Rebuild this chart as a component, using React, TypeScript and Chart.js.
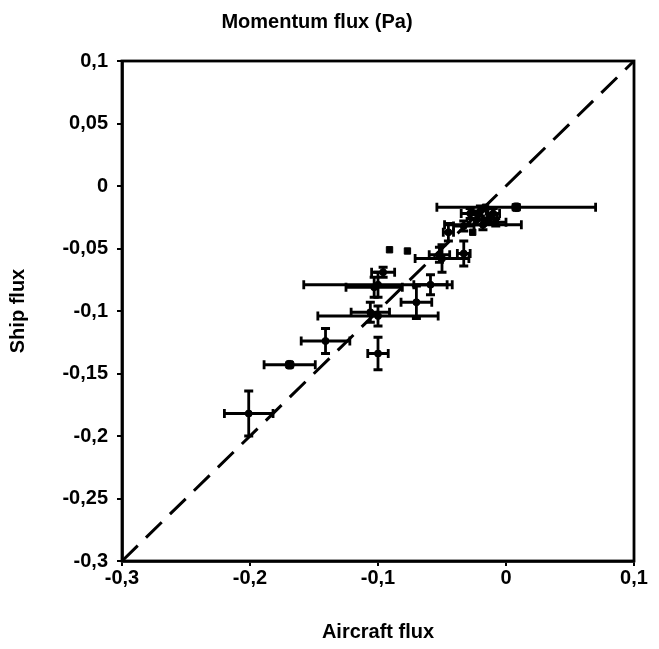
import React, { useEffect, useRef } from "react";
import { Chart, registerables } from "chart.js";

Chart.register(...registerables);

// Points with error bars (aircraft flux vs ship flux, Pa)
const crossX = [-0.201, -0.169, -0.141, -0.100, -0.100, -0.106, -0.070, -0.100, -0.103, -0.059, -0.096, -0.050, -0.052, -0.033, -0.045, -0.033, -0.018, -0.008, -0.028, -0.023, -0.013, -0.020, -0.010, 0.008];
const crossY = [-0.182, -0.143, -0.124, -0.134, -0.104, -0.101, -0.093, -0.079, -0.081, -0.079, -0.069, -0.058, -0.055, -0.054, -0.037, -0.032, -0.031, -0.029, -0.022, -0.027, -0.026, -0.020, -0.022, -0.017];
const crossXErr = [0.019, 0.020, 0.019, 0.008, 0.047, 0.015, 0.012, 0.058, 0.022, 0.013, 0.009, 0.021, 0.008, 0.005, 0.004, 0.008, 0.030, 0.008, 0.007, 0.005, 0.006, 0.006, 0.005, 0.062];
const crossYErr = [0.018, 0.000, 0.010, 0.013, 0.008, 0.008, 0.013, 0.010, 0.008, 0.008, 0.004, 0.011, 0.006, 0.010, 0.007, 0.004, 0.004, 0.003, 0.004, 0.004, 0.004, 0.004, 0.004, 0.002];

// Points without error bars
const squareX = [-0.091, -0.077, -0.026, -0.016];
const squareY = [-0.051, -0.052, -0.037, -0.017];

// 1:1 reference line
const diagX = [-0.3, 0.1];
const diagY = [-0.3, 0.1];

const xTicks = [-0.3, -0.2, -0.1, 0, 0.1];
const yTicks = [0.1, 0.05, 0, -0.05, -0.1, -0.15, -0.2, -0.25, -0.3];

const fmt = (v: number) => {
  const r = Math.round(v * 1000) / 1000;
  return String(r).replace(".", ",");
};

const FONT = "'Liberation Sans', Arial, sans-serif";

const errorBarPlugin = {
  id: "errorBars",
  afterDatasetsDraw(chart: any) {
    const { ctx, scales } = chart;
    const x = scales.x;
    const y = scales.y;
    const cap = 4.5;
    ctx.save();
    ctx.strokeStyle = "#000";
    ctx.lineWidth = 2.8;
    ctx.lineCap = "butt";
    for (let i = 0; i < crossX.length; i++) {
      const cx = x.getPixelForValue(crossX[i]);
      const cy = y.getPixelForValue(crossY[i]);
      if (crossXErr[i] > 0) {
        const x0 = x.getPixelForValue(crossX[i] - crossXErr[i]);
        const x1 = x.getPixelForValue(crossX[i] + crossXErr[i]);
        ctx.beginPath();
        ctx.moveTo(x0, cy);
        ctx.lineTo(x1, cy);
        ctx.moveTo(x0, cy - cap);
        ctx.lineTo(x0, cy + cap);
        ctx.moveTo(x1, cy - cap);
        ctx.lineTo(x1, cy + cap);
        ctx.stroke();
      }
      if (crossYErr[i] > 0) {
        const y0 = y.getPixelForValue(crossY[i] - crossYErr[i]);
        const y1 = y.getPixelForValue(crossY[i] + crossYErr[i]);
        ctx.beginPath();
        ctx.moveTo(cx, y0);
        ctx.lineTo(cx, y1);
        ctx.moveTo(cx - cap, y0);
        ctx.lineTo(cx + cap, y0);
        ctx.moveTo(cx - cap, y1);
        ctx.lineTo(cx + cap, y1);
        ctx.stroke();
      }
    }
    ctx.restore();
  },
  afterDraw(chart: any) {
    const { ctx, chartArea } = chart;
    ctx.save();
    ctx.strokeStyle = "#000";
    ctx.lineWidth = 2.8;
    ctx.strokeRect(chartArea.left, chartArea.top, chartArea.right - chartArea.left, chartArea.bottom - chartArea.top);
    ctx.restore();
  },
};

export default function App() {
  const ref = useRef<HTMLCanvasElement | null>(null);

  useEffect(() => {
    if (!ref.current) return;
    const chart = new Chart(ref.current, {
      type: "scatter",
      data: {
        datasets: [
          {
            label: "1:1",
            data: diagX.map((v, i) => ({ x: v, y: diagY[i] })),
            showLine: true,
            borderColor: "#000",
            borderWidth: 3,
            borderDash: [22, 11.5],
            pointRadius: 0,
            fill: false,
          },
          {
            label: "With error bars",
            data: crossX.map((v, i) => ({ x: v, y: crossY[i] })),
            pointStyle: (c: any) => (crossYErr[c.dataIndex] <= 0.002 ? "rectRounded" : "circle"),
            pointRadius: (c: any) => (crossYErr[c.dataIndex] <= 0.002 ? 5 : 3.5),
            backgroundColor: "#000",
            borderColor: "#000",
            borderWidth: 1,
          },
          {
            label: "Without error bars",
            data: squareX.map((v, i) => ({ x: v, y: squareY[i] })),
            pointStyle: "rect",
            pointRadius: 4.5,
            backgroundColor: "#000",
            borderColor: "#000",
            borderWidth: 1,
          },
        ],
      },
      options: {
        responsive: true,
        maintainAspectRatio: false,
        animation: false,
        layout: { padding: { left: 0, right: 25, top: 0, bottom: 0 } },
        plugins: {
          legend: { display: false },
          tooltip: { enabled: false },
          title: {
            display: true,
            text: "Momentum flux (Pa)",
            color: "#000",
            font: { family: FONT, size: 20, weight: "bold" },
            padding: { top: 10, bottom: 27 },
          },
        },
        scales: {
          x: {
            type: "linear",
            min: -0.3,
            max: 0.1,
            afterBuildTicks: (s: any) => {
              s.ticks = xTicks.map((v) => ({ value: v }));
            },
            afterFit: (s: any) => {
              s.height = 88;
            },
            ticks: {
              color: "#000",
              font: { family: FONT, size: 20, weight: "bold" },
              padding: 0,
              callback: (v: any) => fmt(Number(v)),
            },
            grid: { drawOnChartArea: false, drawTicks: true, tickLength: 5, color: "#000", lineWidth: 2 },
            border: { display: true, color: "#000", width: 2.8 },
            title: {
              display: true,
              text: "Aircraft flux",
              color: "#000",
              font: { family: FONT, size: 20, weight: "bold" },
              padding: { top: 0, bottom: 5 },
            },
          },
          y: {
            type: "linear",
            min: -0.3,
            max: 0.1,
            afterBuildTicks: (s: any) => {
              s.ticks = yTicks.map((v) => ({ value: v }));
            },
            afterFit: (s: any) => {
              s.width = 122;
            },
            ticks: {
              color: "#000",
              font: { family: FONT, size: 20, weight: "bold" },
              padding: 9,
              callback: (v: any) => fmt(Number(v)),
            },
            grid: { drawOnChartArea: false, drawTicks: true, tickLength: 5, color: "#000", lineWidth: 2 },
            border: { display: true, color: "#000", width: 2.8 },
            title: {
              display: true,
              text: "Ship flux",
              color: "#000",
              font: { family: FONT, size: 20, weight: "bold" },
              padding: { top: 6, bottom: 0 },
            },
          },
        },
      },
      plugins: [errorBarPlugin],
    } as any);
    return () => chart.destroy();
  }, []);

  return (
    <div style={{ position: "absolute", left: 0, top: 0, width: 659, height: 649, background: "#fff" }}>
      <canvas ref={ref} />
    </div>
  );
}
